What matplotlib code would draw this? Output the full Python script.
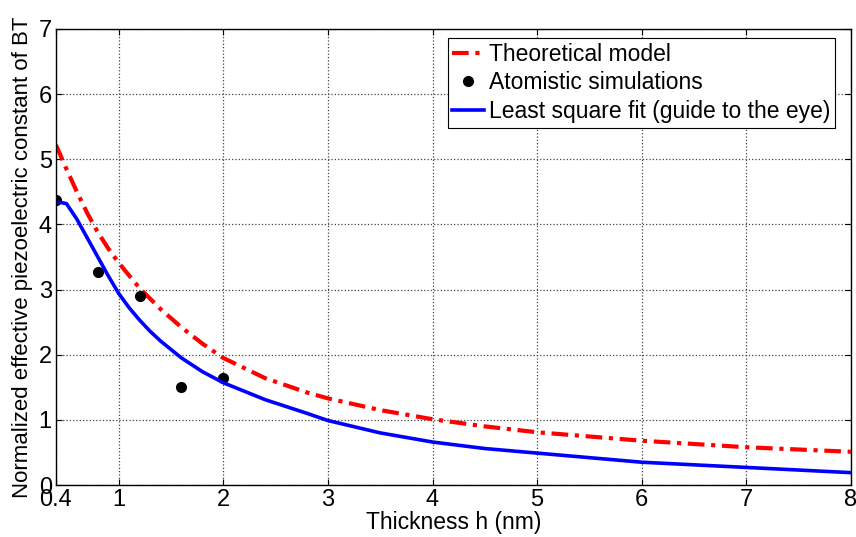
'''Normalized effective piezoelectric constant of BT versus thickness.'''

# ----------------------------------------------------------------------------
# Modules
from matplotlib import pyplot as plt

# ----------------------------------------------------------------------------
# Data

theory_h = [0.4, 0.5, 0.6, 0.7, 0.8, 0.9, 1.0, 1.2, 1.4, 1.6, 1.8, 2.0, 2.4,
            2.8, 3.0, 3.5, 4.0, 4.5, 5.0, 6.0, 7.0, 8.0]
theory_d = [5.22, 4.85, 4.5, 4.17, 3.88, 3.63, 3.41, 3.02, 2.7, 2.42, 2.17,
            1.95, 1.64, 1.42, 1.33, 1.15, 1.01, 0.9, 0.81, 0.68, 0.58, 0.51]

atom_h = [0.4, 0.8, 1.2, 1.6, 2.0]
atom_d = [4.38, 3.27, 2.9, 1.5, 1.65]

fit_h = [0.4, 0.5, 0.6, 0.7, 0.8, 0.9, 1.0, 1.1, 1.2, 1.3, 1.4, 1.6, 1.8,
         2.0, 2.4, 2.8, 3.0, 3.5, 4.0, 4.5, 5.0, 6.0, 7.0, 8.0]
fit_d = [4.35, 4.32, 4.08, 3.79, 3.5, 3.21, 2.94, 2.72, 2.53, 2.36, 2.21,
         1.95, 1.74, 1.57, 1.31, 1.1, 0.99, 0.8, 0.66, 0.56, 0.49, 0.35,
         0.27, 0.19]

x_ticks = [0.4, 1, 2, 3, 4, 5, 6, 7, 8]
x_tick_labels = ['0.4', '1', '2', '3', '4', '5', '6', '7', '8']
y_ticks = [0, 1, 2, 3, 4, 5, 6, 7]

# ----------------------------------------------------------------------------


def main():

    plt.rcParams['font.family'] = ['Liberation Sans', 'DejaVu Sans']

    fig = plt.figure(figsize=(8.56, 5.37), dpi=100)
    ax = fig.add_axes([0.0654, 0.0968, 0.9286, 0.8492])

    ax.plot(theory_h, theory_d, color='#ff0000', linewidth=3,
            dashes=(4, 1.6, 1, 1.6), label='Theoretical model')
    ax.plot(atom_h, atom_d, 'o', color='black', markersize=7,
            label='Atomistic simulations')
    ax.plot(fit_h, fit_d, color='#0000ff', linewidth=2.6,
            label='Least square fit (guide to the eye)')

    ax.set_xlim(0.4, 8)
    ax.set_ylim(0, 7)
    ax.set_xticks(x_ticks)
    ax.set_xticklabels(x_tick_labels)
    ax.set_yticks(y_ticks)
    ax.tick_params(direction='in', top=True, right=True, labelsize=17,
                   length=4, pad=3)
    ax.grid(True, linestyle=':', color='#444444', linewidth=0.9)
    for spine in ax.spines.values():
        spine.set_linewidth(1.0)

    ax.set_xlabel('Thickness h (nm)', fontsize=16.5, labelpad=0)
    ax.set_ylabel('Normalized effective piezoelectric constant of BT',
                  fontsize=16, labelpad=4)

    leg = ax.legend(loc='upper right', bbox_to_anchor=(0.98, 0.98),
                    borderaxespad=0, fontsize=16.5, frameon=True,
                    fancybox=False, edgecolor='black', framealpha=1,
                    handlelength=1.4, handletextpad=0.2, borderpad=0.2,
                    labelspacing=0.25, numpoints=1)
    leg.get_frame().set_linewidth(0.8)

    plt.savefig('out.png', dpi=100)

    return None

# ----------------------------------------------------------------------------


if __name__ == "__main__":
    main()
